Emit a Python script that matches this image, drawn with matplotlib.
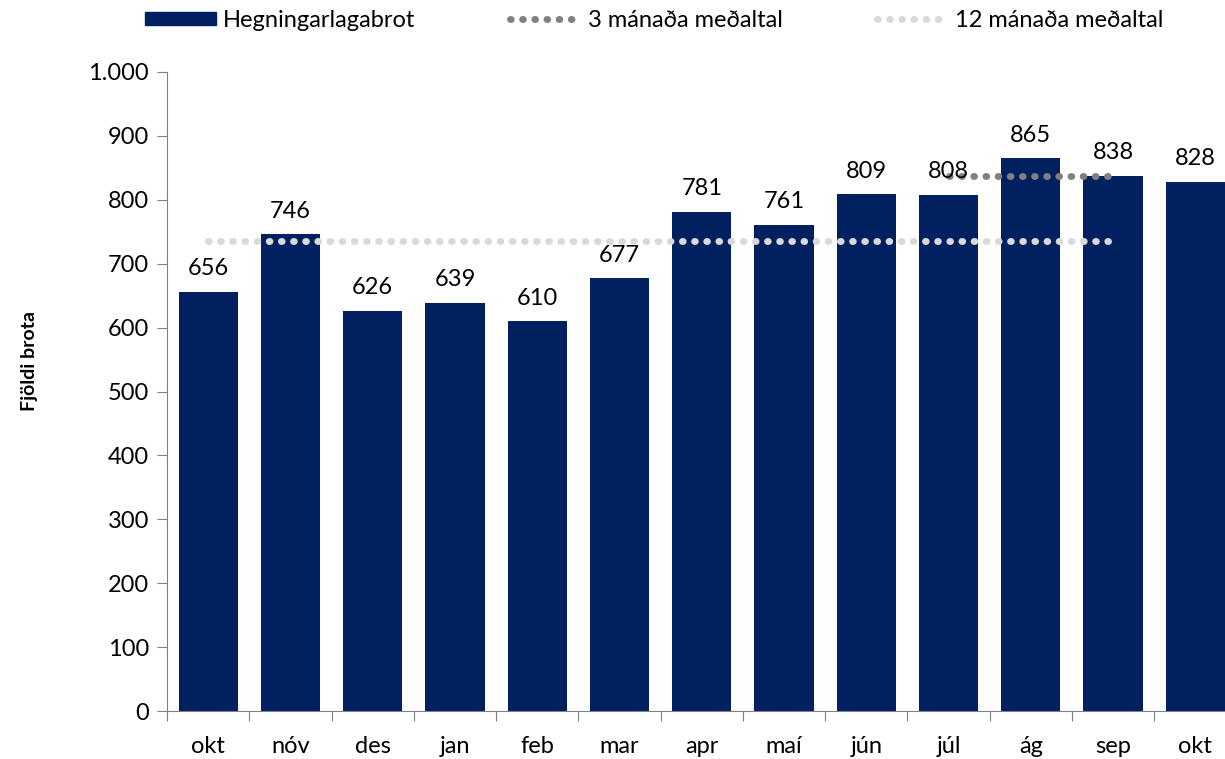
import matplotlib.pyplot as plt
from matplotlib.lines import Line2D
from matplotlib.patches import Patch
from matplotlib.ticker import FuncFormatter, FixedLocator, NullFormatter

plt.rcParams['font.family'] = ['Lato', 'DejaVu Sans']

# data
months = ['okt', 'nóv', 'des', 'jan', 'feb', 'mar', 'apr', 'maí', 'jún', 'júl', 'ág', 'sep', 'okt']
brot = [656, 746, 626, 639, 610, 677, 781, 761, 809, 808, 865, 838, 828]
avg3_x = [9, 10, 11]
avg3 = [837, 837, 837]
avg12_x = list(range(12))
avg12 = [735] * 12

navy = '#002060'
dots = (0, (0.1, 1.65))
fs = 17

fig = plt.figure(figsize=(12.25, 7.59), dpi=100)
ax = fig.add_axes([167/1225, 48/759, (1225-167)/1225, (711-72)/759])

x = list(range(len(months)))
ax.bar(x, brot, width=0.72, color=navy, zorder=2)
for xi, v in zip(x, brot):
    ax.annotate(str(v), (xi, v), xytext=(0, 9), textcoords='offset points',
                ha='center', va='bottom', fontsize=fs, zorder=4)

ax.plot(avg12_x, avg12, color='#d9d9d9', lw=5, ls=dots,
        dash_capstyle='round', zorder=3)
ax.plot(avg3_x, avg3, color='#808080', lw=5, ls=dots,
        dash_capstyle='round', zorder=3)

ax.set_xlim(-0.5, 12.36)
ax.set_ylim(0, 1000)
ax.set_yticks(range(0, 1001, 100))
ax.yaxis.set_major_formatter(FuncFormatter(lambda v, p: f'{int(v):,}'.replace(',', '.')))
ax.xaxis.set_major_locator(FixedLocator([i - 0.5 for i in range(13)]))
ax.xaxis.set_major_formatter(NullFormatter())
ax.xaxis.set_minor_locator(FixedLocator(x))
ax.set_xticklabels(months, minor=True)
ax.tick_params(axis='x', which='minor', length=0, pad=18, labelsize=fs)
ax.tick_params(axis='x', which='major', length=7, color='#808080', direction='out')
ax.tick_params(axis='y', length=7, color='#808080', labelsize=fs, pad=6)

for s in ['top', 'right']:
    ax.spines[s].set_visible(False)
ax.spines['left'].set_color('#808080')
ax.spines['bottom'].set_color('#808080')

ax.set_ylabel('Fjöldi brota', fontsize=14, fontweight='bold')
# label sits a bit above the middle of the axis
ax.yaxis.set_label_coords(-(167 - 30) / (1225 - 167), (711 - 361) / (711 - 72))
ax.yaxis.label.set_va('center')

handles = [
    Patch(color=navy, label='Hegningarlagabrot'),
    Line2D([], [], color='#808080', lw=5, ls=dots, dash_capstyle='round',
           label='3 mánaða meðaltal'),
    Line2D([], [], color='#d9d9d9', lw=5, ls=dots, dash_capstyle='round',
           label='12 mánaða meðaltal'),
]
fig.legend(handles=handles, loc='upper left', bbox_to_anchor=(145/1225, 0.987), ncol=3,
           frameon=False, fontsize=fs, handlelength=3.0, handleheight=0.5,
           handletextpad=0.3, columnspacing=4.0, borderpad=0, borderaxespad=0)

fig.savefig('out.png', dpi=100)
